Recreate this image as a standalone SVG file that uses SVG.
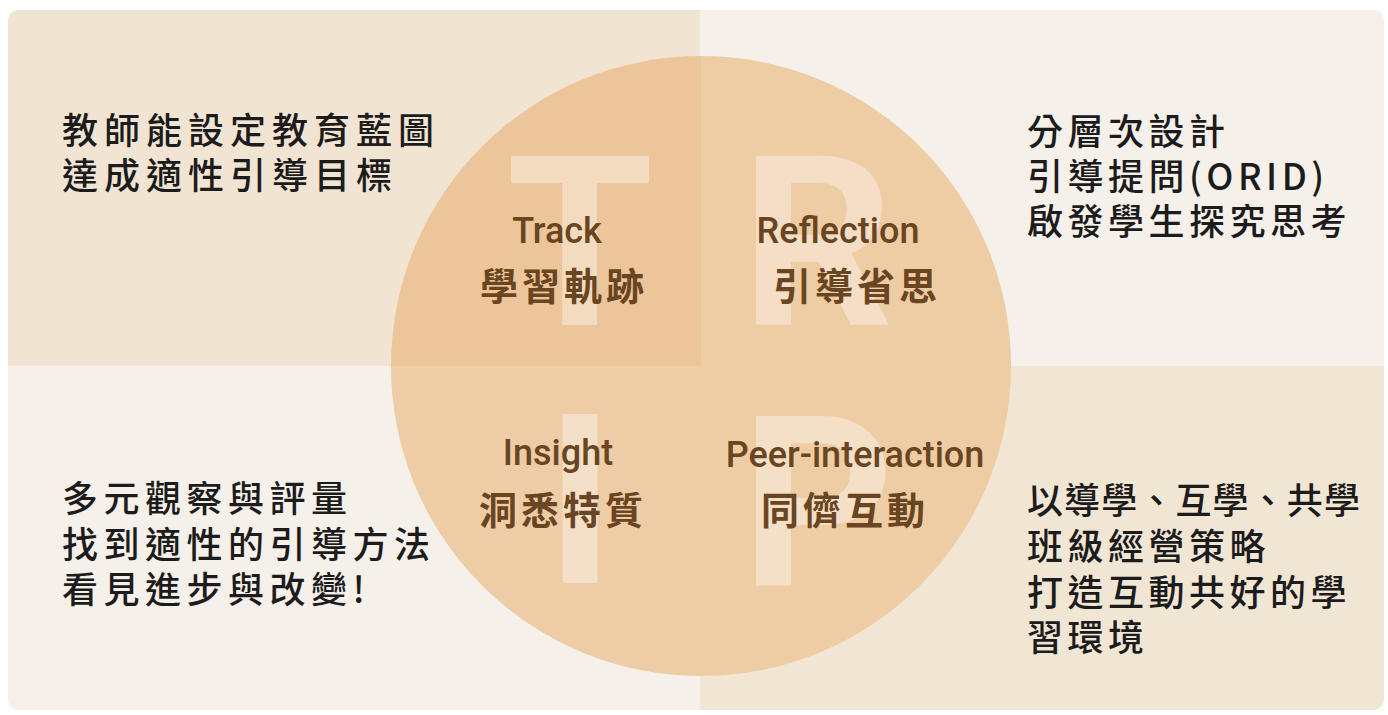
<svg xmlns="http://www.w3.org/2000/svg" width="1388" height="715" viewBox="0 0 1388 715">
<defs>
<style>
.side{font-family:"Noto Sans CJK TC","Noto Sans CJK SC",sans-serif;font-size:36px;font-weight:500;fill:#1c1c1c;letter-spacing:4.5px}
.en{font-family:Roboto,"Liberation Sans",sans-serif;font-size:36px;font-weight:500;fill:#6a4522;text-anchor:middle}
.zh{font-family:"Noto Sans CJK TC","Noto Sans CJK SC",sans-serif;font-size:38px;font-weight:700;fill:#6a4522;text-anchor:middle;letter-spacing:4px}
.big{font-family:Roboto,"Liberation Sans",sans-serif;font-size:238px;font-weight:700;fill:#ffffff;fill-opacity:0.38}
</style>
<clipPath id="frame"><rect x="8" y="10" width="1376" height="700" rx="10"/></clipPath>
</defs>
<rect width="1388" height="715" fill="#ffffff"/>
<g id="panels" clip-path="url(#frame)">
<rect x="8" y="10" width="692" height="356" fill="#f1e4d2"/>
<rect x="700" y="10" width="684" height="356" fill="#f5f0e9"/>
<rect x="8" y="366" width="692" height="344" fill="#f5f0e9"/>
<rect x="700" y="366" width="684" height="344" fill="#f1e5d4"/>
</g>
<g id="circle">
<path d="M701 366 L391 366 A310 310 0 0 1 701 56 Z" fill="#ecc69a"/>
<path d="M701 366 L701 56 A310 310 0 0 1 1011 366 Z" fill="#eecca4"/>
<path d="M701 366 L391 366 A310 310 0 0 0 701 676 Z" fill="#eecda6"/>
<path d="M701 366 L701 676 A310 310 0 0 0 1011 366 Z" fill="#eecda5"/>
<text class="big" x="580" y="325" text-anchor="middle">T</text>
<text class="big" x="741" y="325">R</text>
<text class="big" x="580" y="583" text-anchor="middle">I</text>
<text class="big" x="741" y="585">P</text>
</g>
<g id="node-track">
<text class="en" x="557" y="243">Track</text>
<text class="zh" x="564" y="300">學習軌跡</text>
</g>
<g id="node-reflection">
<text class="en" x="838" y="243">Reflection</text>
<text class="zh" x="857" y="300">引導省思</text>
</g>
<g id="node-insight">
<text class="en" x="558" y="465">Insight</text>
<text class="zh" x="563" y="524">洞悉特質</text>
</g>
<g id="node-peer">
<text class="en" x="855" y="467">Peer-interaction</text>
<text class="zh" x="845" y="524">同儕互動</text>
</g>
<g id="text-tl">
<text class="side" x="62" y="144" style="letter-spacing:6px">教師能設定教育藍圖</text>
<text class="side" x="62" y="189" style="letter-spacing:6px">達成適性引導目標</text>
</g>
<g id="text-tr">
<text class="side" x="1027" y="145">分層次設計</text>
<text class="side" x="1027" y="190">引導提問(ORID)</text>
<text class="side" x="1027" y="235">啟發學生探究思考</text>
</g>
<g id="text-bl">
<text class="side" x="62" y="512" style="letter-spacing:5.5px">多元觀察與評量</text>
<text class="side" x="62" y="558" style="letter-spacing:5.5px">找到適性的引導方法</text>
<text class="side" x="62" y="603" style="letter-spacing:5.5px">看見進步與改變!</text>
</g>
<g id="text-br">
<text class="side" x="1027" y="514" textLength="333" lengthAdjust="spacing" style="letter-spacing:0">以導學、互學、共學</text>
<text class="side" x="1027" y="560">班級經營策略</text>
<text class="side" x="1027" y="606">打造互動共好的學</text>
<text class="side" x="1027" y="651">習環境</text>
</g>
<g id="connectors"/>
</svg>
